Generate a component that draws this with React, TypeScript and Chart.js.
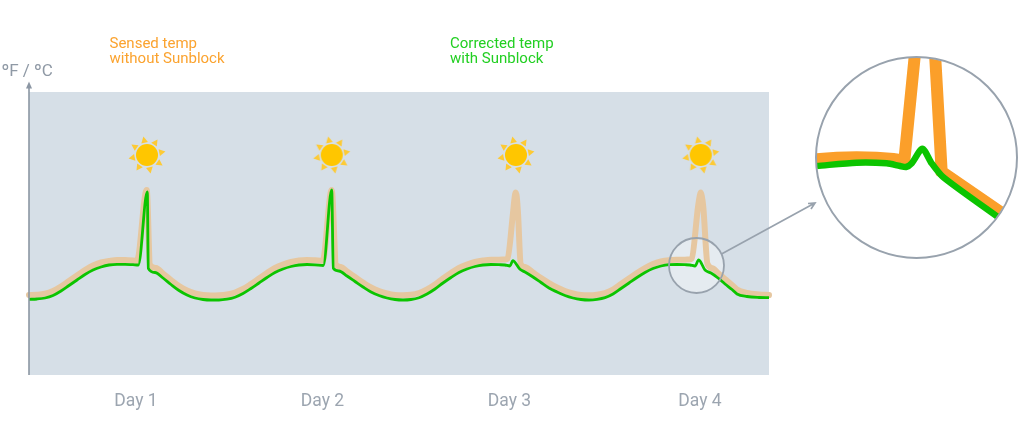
import React, { useEffect, useRef } from "react";
import { Chart, registerables } from "chart.js";

Chart.register(...registerables);

// Time steps (x) and temperature units (y)
const sensedTemp = [
  [0,80],[8,80.3],[16,81.3],[24,84],[32,88.5],[40,94],[48,99.5],[56,105],[64,109.5],[72,112.5],[80,114],[88,115],[96,115],[104,114.5],[108,114],[117.7,185],[121,110],[127,107],[134,101.5],[142,95],[150,89],[158,84.5],[166,81.5],[174,80],[182,79.5],[190,79.7],[198,80.5],[206,82.5],[214,86],[222,91],[230,96.5],[238,102],[246,107],[254,110.5],[262,113],[270,114.5],[278,115],[286,114.7],[293.7,114.3],[302.7,185],[307,110],[312,108],[318,103.5],[326,98],[334,92.5],[342,87.5],[350,84],[358,81.5],[366,80],[374,79.7],[382,80.2],[390,82],[398,85.5],[406,90.5],[414,96.5],[422,102],[430,107],[438,110.5],[446,113],[454,114.5],[462,115.3],[470,115.3],[476,115.5],[478.5,116.5],[484,162],[485.7,178],[486.7,182.5],[487.8,178],[489,162],[491.7,111],[496,108],[504,102.5],[512,97],[520,92],[528,87.5],[536,84],[544,81.5],[552,80],[560,79.7],[568,80.3],[576,82],[584,85.5],[592,91],[600,96.5],[608,102],[616,107],[624,111],[632,113.5],[640,114.8],[648,115.2],[656,115.3],[660,115.5],[662.7,116.5],[669,168],[670.7,179],[671.7,182.5],[672.8,179],[674.3,168],[678.5,111],[684,106.5],[689,102],[696,96],[703,90],[708,85.5],[718,82],[730,80.5],[740,80],
];
const correctedTemp = [
  [0,75.7],[8,76],[16,77],[24,79.5],[32,84],[40,89.5],[48,95],[56,100.5],[64,105],[72,108],[80,110],[88,110.7],[96,110.7],[104,110.3],[109.3,110],[118.3,183],[119.3,106.7],[126,102.5],[134,97],[142,90.5],[150,84.5],[158,80],[166,77],[174,75.5],[182,75],[190,75],[198,75.8],[206,77.8],[214,81.5],[222,86.5],[230,92],[238,97.5],[246,102.5],[254,106],[262,108.5],[270,110],[278,110.5],[286,110.2],[294.3,109.5],[302.7,185],[304.3,106.7],[310,104],[318,99],[326,93.5],[334,88],[342,83],[350,79.5],[358,77],[366,75.5],[374,75],[382,75.5],[390,77.3],[398,81],[406,86],[414,92],[422,97.5],[430,102.5],[438,106],[446,108.5],[454,110],[462,110.5],[470,110.3],[476,110],[481,109],[483.7,114.3],[491,105.7],[496,103],[504,98],[512,92.5],[520,87],[528,83],[536,79.5],[544,77],[552,75.5],[560,75],[568,75.6],[576,77.3],[584,81],[592,86.5],[600,92],[608,97.5],[616,102.5],[624,106.5],[632,109],[640,110.3],[648,110.5],[656,110.3],[661,110],[666,109],[669.7,115],[676,105],[682,102],[689,97],[696,91],[703,85.5],[708,81],[718,78.5],[730,77.5],[740,77.3],
];
const sunMarks = [[118,220],[302.7,220],[487,220],[671.7,220]];
const dayTicks = [107,293.5,480.5,671];
const dayLabels = ["Day 1","Day 2","Day 3","Day 4"];
const sensedLabel = ["Sensed temp","without Sunblock"];
const correctedLabel = ["Corrected temp","with Sunblock"];
const axisLabel = "ºF / ºC";

// Magnified detail of Day 4
const insetSensed = [
  [20,300],[60,303],[110,306.5],[170,308],[230,307],[280,303],[313,298],[345,620],[375,760],[405,620],[425,265],[603,143],
];
const insetCorrected = [
  [20,280],[50,282],[170,292],[260,290],[300,282],[318,279],[335,290],[367,334],[395,290],[430,248],[592,130],
];

const ORANGE_TEXT = "#fba32f";
const GREEN_TEXT = "#22cf22";
const TAN = "#e6c7a0";
const GREEN = "#0cc400";
const ORANGE = "#fb9f2a";
const GREY = "#98a2ad";
const AXIS = "#8b96a3";
const PANEL = "#d6dfe7";
const FONT = "Roboto, sans-serif";

function makeSun() {
  const c = document.createElement("canvas");
  c.width = 44;
  c.height = 44;
  const g = c.getContext("2d")!;
  g.translate(22, 22);
  g.fillStyle = "#fdca35";
  g.rotate((-11 * Math.PI) / 180);
  for (let i = 0; i < 8; i++) {
    g.beginPath();
    g.moveTo(-3.4, -12.5);
    g.lineTo(0, -18.8);
    g.lineTo(3.4, -12.5);
    g.closePath();
    g.fill();
    g.rotate(Math.PI / 4);
  }
  g.setTransform(1, 0, 0, 1, 22, 22);
  g.fillStyle = "#ffc600";
  g.beginPath();
  g.arc(0, 0, 11, 0, Math.PI * 2);
  g.fill();
  return c;
}

const decorations = {
  id: "decorations",
  beforeDraw(chart: any) {
    const { ctx, chartArea: a } = chart;
    ctx.save();
    ctx.fillStyle = PANEL;
    ctx.fillRect(a.left, a.top, a.right - a.left, a.bottom - a.top);
    ctx.restore();
  },
  beforeDatasetsDraw(chart: any) {
    const { ctx, scales } = chart;
    ctx.save();
    ctx.fillStyle = "rgba(255,255,255,0.38)";
    ctx.beginPath();
    ctx.arc(scales.x.getPixelForValue(667.5), scales.y.getPixelForValue(109.5), 27.5, 0, Math.PI * 2);
    ctx.fill();
    ctx.restore();
  },
  afterDraw(chart: any) {
    const { ctx, scales, chartArea: a } = chart;
    ctx.save();
    // magnifier ring
    ctx.strokeStyle = GREY;
    ctx.lineWidth = 1.8;
    ctx.beginPath();
    ctx.arc(scales.x.getPixelForValue(667.5), scales.y.getPixelForValue(109.5), 27.5, 0, Math.PI * 2);
    ctx.stroke();
    // connector with arrow
    ctx.lineWidth = 1.7;
    ctx.beginPath();
    ctx.moveTo(721.5, 254);
    ctx.lineTo(814, 203.5);
    ctx.moveTo(808, 203.5);
    ctx.lineTo(815, 203);
    ctx.lineTo(811, 209);
    ctx.stroke();
    // y axis arrow
    ctx.strokeStyle = AXIS;
    ctx.fillStyle = AXIS;
    ctx.lineWidth = 1.6;
    ctx.beginPath();
    ctx.moveTo(a.left, a.bottom);
    ctx.lineTo(a.left, 86);
    ctx.stroke();
    ctx.beginPath();
    ctx.moveTo(a.left, 81.5);
    ctx.lineTo(a.left + 3, 88.5);
    ctx.lineTo(a.left - 3, 88.5);
    ctx.closePath();
    ctx.fill();
    // texts
    ctx.textBaseline = "alphabetic";
    ctx.textAlign = "left";
    ctx.font = `15px ${FONT}`;
    ctx.fillStyle = ORANGE_TEXT;
    sensedLabel.forEach((t, i) => ctx.fillText(t, 109.5, 48 + i * 14.5));
    ctx.fillStyle = GREEN_TEXT;
    correctedLabel.forEach((t, i) => ctx.fillText(t, 450, 48 + i * 14.5));
    ctx.font = `17px ${FONT}`;
    ctx.fillStyle = "#8f99a5";
    ctx.fillText(axisLabel, 1.5, 76);
    ctx.restore();
  },
};

const insetClip = {
  id: "insetClip",
  beforeDatasetsDraw(chart: any) {
    const { ctx } = chart;
    ctx.save();
    ctx.beginPath();
    ctx.arc(116.5, 117.5, 100, 0, Math.PI * 2);
    ctx.clip();
  },
  afterDatasetsDraw(chart: any) {
    const { ctx } = chart;
    ctx.restore();
    ctx.save();
    ctx.strokeStyle = GREY;
    ctx.lineWidth = 2;
    ctx.beginPath();
    ctx.arc(116.5, 117.5, 100.5, 0, Math.PI * 2);
    ctx.stroke();
    ctx.restore();
  },
};

const toXY = (pairs: number[][]) => pairs.map(([x, y]) => ({ x, y }));

export default function App() {
  const mainRef = useRef<HTMLCanvasElement>(null);
  const insetRef = useRef<HTMLCanvasElement>(null);

  useEffect(() => {
    const main = new Chart(mainRef.current!, {
      type: "line",
      data: {
        datasets: [
          {
            label: "Corrected temp with Sunblock",
            data: toXY(correctedTemp),
            borderColor: GREEN,
            borderWidth: 2.8,
            pointRadius: 0,
            cubicInterpolationMode: "monotone",
            borderCapStyle: "butt",
            borderJoinStyle: "round",
            clip: false,
            order: 1,
          },
          {
            label: "Sensed temp without Sunblock",
            data: toXY(sensedTemp),
            borderColor: TAN,
            borderWidth: 6,
            pointRadius: 0,
            cubicInterpolationMode: "monotone",
            borderCapStyle: "round",
            borderJoinStyle: "round",
            clip: false,
            order: 2,
          },
          {
            label: "Sun",
            data: toXY(sunMarks),
            showLine: false,
            pointStyle: makeSun(),
            pointRadius: 20,
            clip: false,
            order: 3,
          },
        ],
      } as any,
      options: {
        animation: false,
        responsive: false,
        layout: { padding: { left: 29, right: 255, top: 92, bottom: 0 } },
        plugins: { legend: { display: false }, tooltip: { enabled: false } },
        events: [],
        scales: {
          x: {
            type: "linear",
            min: 0,
            max: 740,
            grid: { display: false },
            border: { display: false },
            afterFit: (s: any) => { s.height = 68; },
            afterBuildTicks: (s: any) => { s.ticks = dayTicks.map((value) => ({ value })); },
            ticks: {
              autoSkip: false,
              maxRotation: 0,
              padding: 8,
              color: "#9ca5b0",
              font: { family: FONT, size: 17.5 },
              callback: (v: any) => dayLabels[dayTicks.indexOf(v)] ?? "",
            },
          },
          y: {
            type: "linear",
            min: 0,
            max: 283,
            grid: { display: false },
            border: { display: false },
            ticks: { display: false },
            afterFit: (s: any) => { s.width = 0; },
          },
        },
      } as any,
      plugins: [decorations],
    });

    const inset = new Chart(insetRef.current!, {
      type: "line",
      data: {
        datasets: [
          {
            label: "Corrected (detail)",
            data: toXY(insetCorrected),
            borderColor: GREEN,
            borderWidth: 6.5,
            pointRadius: 0,
            tension: 0.25,
            borderJoinStyle: "round",
            order: 1,
          },
          {
            label: "Sensed (detail)",
            data: toXY(insetSensed),
            borderColor: ORANGE,
            borderWidth: 12,
            pointRadius: 0,
            tension: 0,
            borderJoinStyle: "miter",
            order: 2,
          },
        ],
      } as any,
      options: {
        animation: false,
        responsive: false,
        plugins: { legend: { display: false }, tooltip: { enabled: false } },
        events: [],
        scales: {
          x: { type: "linear", min: 0, max: 672, display: false },
          y: { type: "linear", min: 0, max: 660, display: false },
        },
      } as any,
      plugins: [insetClip],
    });

    return () => {
      main.destroy();
      inset.destroy();
    };
  }, []);

  return (
    <div style={{ position: "absolute", left: 0, top: 0, width: 1024, height: 443, overflow: "hidden", background: "#fff" }}>
      <canvas ref={mainRef} width={1024} height={443} style={{ position: "absolute", left: 0, top: 0, display: "block" }} />
      <canvas ref={insetRef} width={224} height={220} style={{ position: "absolute", left: 800, top: 40, display: "block" }} />
    </div>
  );
}
